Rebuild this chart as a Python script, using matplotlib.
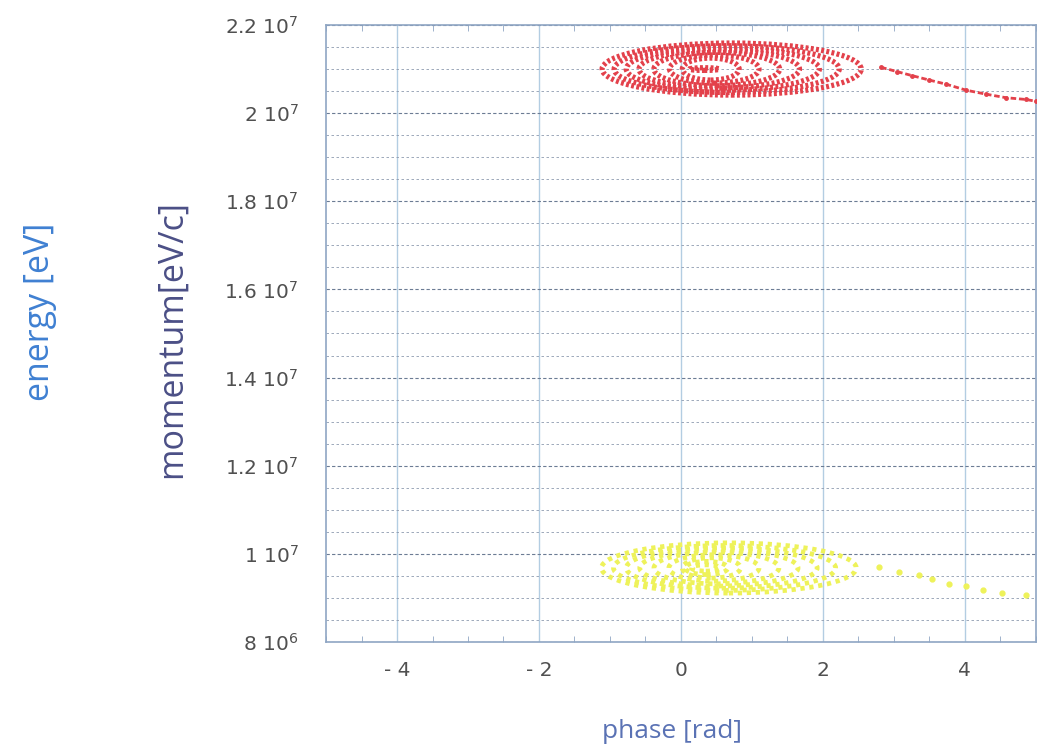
import matplotlib.pyplot as plt
from matplotlib.patches import Ellipse
from matplotlib.ticker import MultipleLocator, FixedLocator, FixedFormatter

# rings of the two bunches: left edge, right edge (rad), half height (eV/c)
red_center_y = 2.1e7
red_left = [-1.11, -0.94, -0.77, -0.59, -0.38, -0.16, 0.02, 0.12]
red_right = [2.54, 2.23, 1.95, 1.67, 1.39, 1.10, 0.82, 0.54]
red_half = [5.9e5, 5.3e5, 4.8e5, 4.3e5, 3.8e5, 3.2e5, 2.5e5, 0.3e5]

yel_center_y = 9.68e6
yel_left = [-1.12, -0.95, -0.77, -0.58, -0.38, -0.17, 0.02, 0.06, 0.15]
yel_right = [2.47, 2.18, 1.92, 1.65, 1.38, 1.10, 0.84, 0.66, 0.55]
yel_half = [5.7e5, 5.1e5, 4.6e5, 4.1e5, 3.6e5, 3.0e5, 2.3e5, 1.5e5, 0.7e5]

# escaping particles (tails)
red_tail_x = [2.82, 3.05, 3.26, 3.50, 3.73, 4.02, 4.30, 4.58, 4.86, 5.0]
red_tail_y = [2.104e7, 2.094e7, 2.085e7, 2.075e7, 2.066e7, 2.052e7, 2.043e7,
              2.035e7, 2.031e7, 2.027e7]
yel_tail_x = [2.79, 3.07, 3.36, 3.54, 3.78, 4.02, 4.25, 4.53, 4.86]
yel_tail_y = [9.71e6, 9.59e6, 9.52e6, 9.44e6, 9.32e6, 9.26e6, 9.19e6, 9.11e6, 9.06e6]

x_ticks = [-4, -2, 0, 2, 4]
x_tick_labels = ["- 4", "- 2", "0", "2", "4"]
y_ticks = [8e6, 1e7, 1.2e7, 1.4e7, 1.6e7, 1.8e7, 2e7, 2.2e7]
y_tick_labels = ["8 10$^6$", "1 10$^7$", "1.2 10$^7$", "1.4 10$^7$",
                 "1.6 10$^7$", "1.8 10$^7$", "2 10$^7$", "2.2 10$^7$"]

RED = "#e3414b"
YELLOW = "#eef25a"

fig = plt.figure(figsize=(10.41, 7.46), dpi=100)
ax = fig.add_axes([0.3132, 0.1394, 0.6818, 0.8271])
ax.set_xlim(-5, 5)
ax.set_ylim(8e6, 2.2e7)

# grid
ax.xaxis.set_major_locator(FixedLocator(x_ticks))
ax.xaxis.set_major_formatter(FixedFormatter(x_tick_labels))
ax.xaxis.set_minor_locator(MultipleLocator(0.5))
ax.yaxis.set_major_locator(FixedLocator(y_ticks))
ax.yaxis.set_major_formatter(FixedFormatter(y_tick_labels))
ax.yaxis.set_minor_locator(MultipleLocator(5e5))
ax.grid(True, axis="x", which="major", color="#b3cde2", lw=1.0)
ax.grid(True, axis="y", which="major", color="#6c7c94", lw=0.8, ls=(0, (3, 2)))
ax.grid(True, axis="y", which="minor", color="#8e9bb0", lw=0.6, ls=(0, (3, 3)))
ax.set_axisbelow(True)

for s in ax.spines.values():
    s.set_color("#8fa6c4")
    s.set_linewidth(1.2)

ax.tick_params(axis="both", which="both", direction="in", color="#8fa6c4",
               top=True, right=False, labelcolor="#505050", labelsize=14.5)
ax.tick_params(axis="both", which="major", length=0)
ax.tick_params(axis="x", which="minor", length=4)
ax.tick_params(axis="y", which="minor", length=0)
ax.tick_params(axis="x", pad=14)
ax.tick_params(axis="y", pad=20)


def draw_bunch(left, right, half, cy, color, lw, dash):
    for l, r, h in zip(left, right, half):
        ax.add_patch(Ellipse(((l + r) / 2, cy), r - l, 2 * h, fill=False,
                             edgecolor=color, lw=lw, ls=dash, zorder=3))


draw_bunch(red_left, red_right, red_half, red_center_y, RED, 3.8, (0, (0.55, 0.45)))
draw_bunch(yel_left, yel_right, yel_half, yel_center_y, YELLOW, 3.4, (0, (0.9, 1.0)))

ax.plot(red_tail_x, red_tail_y, color=RED, lw=2, ls=(0, (2, 1)),
        marker="o", ms=2.5, zorder=3)
ax.plot(yel_tail_x, yel_tail_y, color=YELLOW, lw=0, marker="o", ms=3.5, zorder=3)

fig.text(0.6455, 0.019, "phase [rad]", ha="center", va="center",
         color="#5a72b4", fontsize=19, family="Open Sans")
fig.text(0.165, 0.545, "momentum[eV/c]", rotation=90, ha="center", va="center",
         color="#4b4f86", fontsize=24.5, family="Open Sans")
fig.text(0.038, 0.582, "energy [eV]", rotation=90, ha="center", va="center",
         color="#3f80d2", fontsize=24.5, family="Open Sans")

fig.savefig("out.png", dpi=100)
